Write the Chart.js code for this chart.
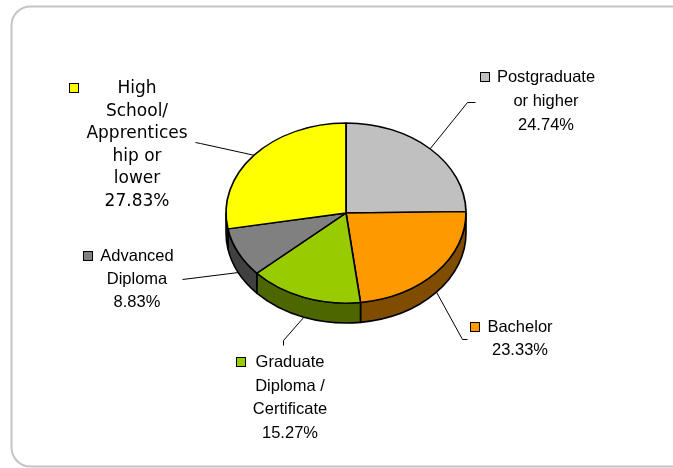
<!DOCTYPE html>
<html>
<head>
<meta charset="utf-8">
<title>Qualification levels</title>
<script src="https://cdn.jsdelivr.net/npm/chart.js@4"></script>
<style>
  html, body { margin: 0; padding: 0; background: #fff; }
  canvas { display: block; }
</style>
</head>
<body>
<canvas id="qualChart" width="673" height="468"></canvas>
<script>
// Qualification shares, clockwise from 12 o'clock
const categories = ['Postgraduate or higher', 'Bachelor', 'Graduate Diploma / Certificate', 'Advanced Diploma', 'High School/ Apprenticeship or lower'];
const shares = [24.74, 23.33, 15.27, 8.83, 27.83];

// Wrapped label text for each slice
const labelLines = [
    ['Postgraduate', 'or higher'],
    ['Bachelor'],
    ['Graduate', 'Diploma /', 'Certificate'],
    ['Advanced', 'Diploma'],
    ['High', 'School/', 'Apprentices', 'hip or', 'lower']
];

// Slice colours: top face and the darker side wall
const topColors = ['#C0C0C0', '#FF9900', '#99CC00', '#808080', '#FFFF00'];
const sideColors = ['#606060', '#804C00', '#4C6600', '#404040', '#606000'];

// Label placement: centre x, first baseline, line height, font, leader elbow points
const labelPlacement = [
    { x: 546, y: 82, lh: 24, font: '16.5px "Liberation Sans", Arial, sans-serif', leader: [[467, 102], [475, 102]] },
    { x: 520, y: 332, lh: 23, font: '16.5px "Liberation Sans", Arial, sans-serif', leader: [[462, 339], [467, 339]] },
    { x: 290, y: 367, lh: 23.7, font: '16.5px "Liberation Sans", Arial, sans-serif', leader: [[283, 340], [283, 345]] },
    { x: 137, y: 261, lh: 23, font: '16.5px "Liberation Sans", Arial, sans-serif', leader: [[182, 279]] },
    { x: 137, y: 93, lh: 22.6, font: '17px "DejaVu Sans", Verdana, sans-serif', leader: [[200, 143], [195, 142]] }
];

const TILT = 0.75;   // vertical squash of the pie top
const DEPTH = 20;    // thickness of the pie wall

// Rounded frame round the whole chart
const framePlugin = {
    id: 'frame',
    beforeDraw(chart) {
        const ctx = chart.ctx;
        ctx.save();
        ctx.fillStyle = '#fff';
        ctx.fillRect(0, 0, chart.width, chart.height);
        ctx.beginPath();
        ctx.roundRect(11.5, 6.5, 690, 460, 19);
        ctx.strokeStyle = '#C4C4C4';
        ctx.lineWidth = 2;
        ctx.stroke();
        ctx.restore();
    }
};

// Draws the side wall, then squashes the pie top into an ellipse
const pie3dPlugin = {
    id: 'pie3d',
    beforeDatasetsDraw(chart) {
        const ctx = chart.ctx;
        const arcs = chart.getDatasetMeta(0).data;
        const { x: cx, y: cy, outerRadius: r } = arcs[0];
        ctx.save();
        ctx.lineWidth = 1.6;
        ctx.lineJoin = 'round';
        ctx.strokeStyle = '#000';
        arcs.forEach((arc, i) => {
            // only the front half of the wall is visible
            const a0 = Math.max(arc.startAngle, 0);
            const a1 = Math.min(arc.endAngle, Math.PI);
            if (a1 <= a0) return;
            ctx.beginPath();
            ctx.ellipse(cx, cy, r, r * TILT, 0, a0, a1);
            ctx.ellipse(cx, cy + DEPTH, r, r * TILT, 0, a1, a0, true);
            ctx.closePath();
            ctx.fillStyle = sideColors[i];
            ctx.fill();
            ctx.stroke();
        });
        ctx.restore();

        ctx.save();
        ctx.translate(cx, cy);
        ctx.scale(1, TILT);
        ctx.translate(-cx, -cy);
    },
    afterDatasetsDraw(chart) {
        chart.ctx.restore();
    }
};

// Category labels with legend keys and leader lines
const labelPlugin = {
    id: 'sliceLabels',
    afterDraw(chart) {
        const ctx = chart.ctx;
        const arcs = chart.getDatasetMeta(0).data;
        ctx.save();
        arcs.forEach((arc, i) => {
            const p = labelPlacement[i];
            const mid = (arc.startAngle + arc.endAngle) / 2;
            const ax = arc.x + arc.outerRadius * Math.cos(mid);
            let ay = arc.y + arc.outerRadius * TILT * Math.sin(mid);
            if (Math.sin(mid) > 0) ay += DEPTH;

            // leader line
            ctx.beginPath();
            ctx.moveTo(ax, ay);
            p.leader.forEach(pt => ctx.lineTo(pt[0] + 0.5, pt[1] + 0.5));
            ctx.strokeStyle = '#000';
            ctx.lineWidth = 1;
            ctx.stroke();

            // text block
            const lines = labelLines[i].concat([shares[i].toFixed(2) + '%']);
            ctx.font = p.font;
            ctx.fillStyle = '#000';
            ctx.textAlign = 'center';
            ctx.textBaseline = 'alphabetic';
            let widest = 0;
            lines.forEach((line, k) => {
                widest = Math.max(widest, ctx.measureText(line).width);
                ctx.fillText(line, p.x, p.y + k * p.lh);
            });

            // legend key left of the block
            const keyX = Math.round(p.x - widest / 2 - 17) + 0.5;
            const keyY = Math.round(p.y - 10) + 0.5;
            ctx.fillStyle = topColors[i];
            ctx.fillRect(keyX, keyY, 9, 9);
            ctx.strokeStyle = '#000';
            ctx.lineWidth = 1;
            ctx.strokeRect(keyX, keyY, 9, 9);
        });
        ctx.restore();
    }
};

const ctx = document.getElementById('qualChart').getContext('2d');
const qualChart = new Chart(ctx, {
    type: 'pie',
    data: {
        labels: categories,
        datasets: [{
            data: shares,
            backgroundColor: topColors,
            borderColor: '#000',
            borderWidth: 1.7
        }]
    },
    options: {
        responsive: false,
        animation: false,
        events: [],
        radius: 120,
        layout: { padding: { left: 40, right: 21, top: 0, bottom: 42 } },
        plugins: {
            legend: { display: false },
            tooltip: { enabled: false }
        }
    },
    plugins: [framePlugin, pie3dPlugin, labelPlugin]
});
</script>
</body>
</html>
